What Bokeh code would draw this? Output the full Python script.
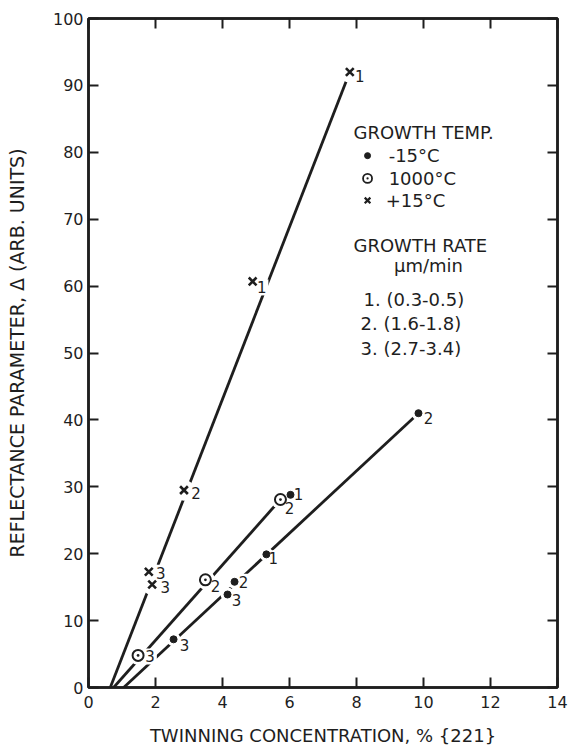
from bokeh.plotting import figure
from bokeh.models import ColumnDataSource, Range1d, FixedTicker, LinearAxis, Label
from bokeh.core.properties import value
from bokeh.embed import file_html
from bokeh.resources import INLINE

# ---- measurements -------------------------------------------------------
# growth at +15 degC (x markers)
hot_x = [7.8, 4.9, 2.85, 1.8, 1.9]
hot_y = [92.0, 60.7, 29.5, 17.3, 15.4]
hot_rate = ["1", "1", "2", "3", "3"]

# growth at 1000 degC (circled dots)
mid_x = [5.73, 3.49, 1.48]
mid_y = [28.1, 16.1, 4.8]
mid_rate = ["2", "2", "3"]

# growth at -15 degC (dots)
cold_x = [9.85, 6.03, 5.31, 4.36, 4.15, 2.54]
cold_y = [41.0, 28.8, 19.9, 15.8, 13.9, 7.2]
cold_rate = ["2", "1", "1", "2", "3", "3"]

# x-axis intercepts of the fitted straight lines
hot_x0 = 0.65
mid_x0 = 0.75
cold_x0 = 1.05

x_ticks = [0, 2, 4, 6, 8, 10, 12, 14]
y_ticks = [0, 10, 20, 30, 40, 50, 60, 70, 80, 90, 100]

# ---- styling ------------------------------------------------------------
INK = "#1e1e1e"
FONT = "DejaVu Sans"

# pixel offsets of the growth-rate digit next to each point
hot_dx = [10, 9, 12, 12, 13]
hot_dy = [4, 6, 3, 1, 3]
mid_dx = [9, 10, 12]
mid_dy = [8, 6, 1]
cold_dx = [10, 8, 7, 9, 9, 11]
cold_dy = [5, -1, 4, 0, 5, 6]

p = figure(width=571, height=754,
           x_range=Range1d(0, 14), y_range=Range1d(0, 100),
           output_backend="svg", toolbar_location=None,
           min_border_left=88, min_border_right=14,
           min_border_top=18, min_border_bottom=67,
           x_axis_location=None, y_axis_location=None)
p.xgrid.visible = False
p.ygrid.visible = False
p.outline_line_color = INK
p.outline_line_width = 2.5
p.background_fill_color = "white"
p.border_fill_color = "white"


def style_axis(ax, labels=True):
    ax.axis_line_color = INK
    ax.axis_line_width = 2.5
    ax.major_tick_in = 10
    ax.major_tick_out = 0
    ax.major_tick_line_color = INK
    ax.major_tick_line_width = 2
    ax.minor_tick_line_color = None
    ax.major_label_text_font = FONT
    ax.major_label_text_color = INK
    ax.axis_label_text_font = FONT
    ax.axis_label_text_color = INK
    ax.axis_label_text_font_style = "normal"
    if not labels:
        # tick marks only on the top and right edges
        ax.major_label_text_font_size = "1px"
        ax.major_label_text_color = None
        ax.major_label_standoff = 0


bottom = LinearAxis(ticker=FixedTicker(ticks=x_ticks),
                    axis_label="TWINNING CONCENTRATION, % {221}")
style_axis(bottom)
bottom.major_label_text_font_size = "16px"
bottom.major_label_standoff = 8
bottom.axis_label_text_font_size = "18px"
bottom.axis_label_standoff = 14
p.add_layout(bottom, "below")

left = LinearAxis(ticker=FixedTicker(ticks=y_ticks),
                  axis_label="REFLECTANCE PARAMETER, \u0394 (ARB. UNITS)")
style_axis(left)
left.major_label_text_font_size = "16px"
left.major_label_standoff = 5
left.axis_label_text_font_size = "19px"
left.axis_label_standoff = 22
p.add_layout(left, "left")

top = LinearAxis(ticker=FixedTicker(ticks=x_ticks))
style_axis(top, labels=False)
p.add_layout(top, "above")

right = LinearAxis(ticker=FixedTicker(ticks=y_ticks))
style_axis(right, labels=False)
p.add_layout(right, "right")


# ---- fitted lines: from the x-intercept up to the highest point ---------
def fit_line(x0, xs, ys):
    i = ys.index(max(ys))
    p.line([x0, xs[i]], [0, ys[i]], line_color=INK, line_width=2.8)


fit_line(hot_x0, hot_x, hot_y)
fit_line(mid_x0, mid_x, mid_y)
fit_line(cold_x0, cold_x, cold_y)

hot = ColumnDataSource(dict(x=hot_x, y=hot_y, t=hot_rate, dx=hot_dx, dy=hot_dy))
mid = ColumnDataSource(dict(x=mid_x, y=mid_y, t=mid_rate, dx=mid_dx, dy=mid_dy))
cold = ColumnDataSource(dict(x=cold_x, y=cold_y, t=cold_rate, dx=cold_dx, dy=cold_dy))

# white halos break the lines around each point and its digit
for src, s in ((hot, 21), (mid, 19), (cold, 14)):
    p.scatter("x", "y", source=src, marker="circle", size=s,
              fill_color="white", line_color=None)
for src in (hot, mid, cold):
    p.text("x", "y", text="t", source=src, x_offset="dx", y_offset="dy",
           text_font=value(FONT), text_font_size="15px", text_color=INK,
           text_align="center", text_baseline="middle",
           background_fill_color="white", padding=2)

p.scatter("x", "y", source=hot, marker="x", size=11,
          line_color=INK, line_width=2.6)
p.scatter("x", "y", source=mid, marker="circle_dot", size=11,
          fill_color="white", line_color=INK, line_width=2)
p.scatter("x", "y", source=cold, marker="circle", size=7,
          fill_color=INK, line_color=INK)

# ---- key ----------------------------------------------------------------
key_sym_x = [8.33, 8.33, 8.33]
key_sym_y = [79.5, 76.1, 72.8]
p.scatter([key_sym_x[0]], [key_sym_y[0]], marker="circle", size=6,
          fill_color=INK, line_color=INK)
p.scatter([key_sym_x[1]], [key_sym_y[1]], marker="circle_dot", size=9,
          fill_color="white", line_color=INK, line_width=1.8)
p.scatter([key_sym_x[2]], [key_sym_y[2]], marker="x", size=8,
          line_color=INK, line_width=2.2)

key_text = [
    ("GROWTH TEMP.", 7.91, 83.0, "left"),
    ("-15\u00b0C", 8.96, 79.5, "left"),
    ("1000\u00b0C", 8.96, 76.1, "left"),
    ("+15\u00b0C", 8.87, 72.8, "left"),
    ("GROWTH RATE", 7.91, 66.1, "left"),
    ("\u03bcm/min", 10.15, 63.1, "center"),
    ("1. (0.3-0.5)", 8.21, 58.0, "left"),
    ("2. (1.6-1.8)", 8.12, 54.4, "left"),
    ("3. (2.7-3.4)", 8.12, 50.7, "left"),
]
for txt, kx, ky, align in key_text:
    p.add_layout(Label(x=kx, y=ky, text=txt, text_font=FONT,
                       text_font_size="18px", text_color=INK,
                       text_align=align, text_baseline="middle"))

open("out.html", "w").write(file_html(p, INLINE))
